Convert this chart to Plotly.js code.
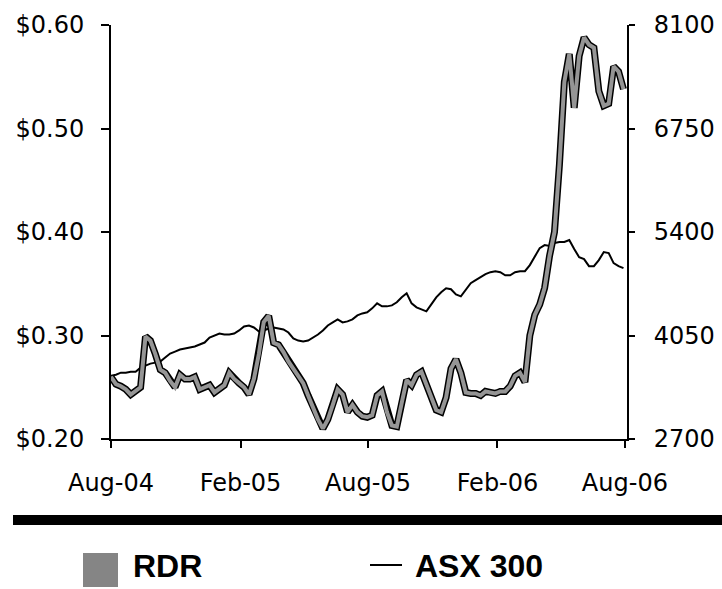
<!DOCTYPE html>
<html>
<head>
<meta charset="utf-8">
<script src="https://cdn.plot.ly/plotly-3.0.1.min.js"></script>
<style>
  html, body { margin: 0; padding: 0; background: #fff; }
  #chart { width: 722px; height: 589px; }
</style>
</head>
<body>
<div id="chart"></div>
<script>
// Weekly observation dates (Aug 2004 - Jul 2006)
const dates = [
  '2004-08-01','2004-08-08','2004-08-15','2004-08-22','2004-08-29',
  '2004-09-05','2004-09-12','2004-09-19','2004-09-26',
  '2004-10-03','2004-10-10','2004-10-17','2004-10-24','2004-10-31',
  '2004-11-07','2004-11-14','2004-11-21','2004-11-28',
  '2004-12-05','2004-12-12','2004-12-19','2004-12-26',
  '2005-01-02','2005-01-09','2005-01-16','2005-01-23','2005-01-30',
  '2005-02-06','2005-02-13','2005-02-20','2005-02-27',
  '2005-03-06','2005-03-13','2005-03-20','2005-03-27',
  '2005-04-03','2005-04-10','2005-04-17','2005-04-24',
  '2005-05-01','2005-05-08','2005-05-15','2005-05-22','2005-05-29',
  '2005-06-05','2005-06-12','2005-06-19','2005-06-26',
  '2005-07-03','2005-07-10','2005-07-17','2005-07-24','2005-07-31',
  '2005-08-07','2005-08-14','2005-08-21','2005-08-28',
  '2005-09-04','2005-09-11','2005-09-18','2005-09-25',
  '2005-10-02','2005-10-09','2005-10-16','2005-10-23','2005-10-30',
  '2005-11-06','2005-11-13','2005-11-20','2005-11-27',
  '2005-12-04','2005-12-11','2005-12-18','2005-12-25',
  '2006-01-01','2006-01-08','2006-01-15','2006-01-22','2006-01-29',
  '2006-02-05','2006-02-12','2006-02-19','2006-02-26',
  '2006-03-05','2006-03-12','2006-03-19','2006-03-26',
  '2006-04-02','2006-04-09','2006-04-16','2006-04-23','2006-04-30',
  '2006-05-07','2006-05-14','2006-05-21','2006-05-28',
  '2006-06-04','2006-06-11','2006-06-18','2006-06-25',
  '2006-07-02','2006-07-09','2006-07-16','2006-07-23','2006-07-30'
];

// RDR share price ($)
const rdr = [
  0.260,0.253,0.251,0.248,0.243,0.246,0.250,0.299,0.295,0.282,
  0.267,0.264,0.256,0.250,0.262,0.258,0.258,0.260,0.248,0.250,
  0.252,0.245,0.249,0.252,0.264,0.258,0.254,0.250,0.243,0.258,
  0.282,0.313,0.319,0.293,0.291,0.284,0.275,0.268,0.261,0.254,
  0.242,0.230,0.219,0.210,0.219,0.233,0.248,0.243,0.226,0.233,
  0.226,0.222,0.221,0.223,0.242,0.246,0.226,0.213,0.212,0.235,
  0.257,0.252,0.262,0.265,0.252,0.239,0.228,0.226,0.240,0.268,
  0.277,0.264,0.245,0.244,0.244,0.242,0.246,0.245,0.244,0.246,
  0.246,0.251,0.261,0.264,0.255,0.300,0.320,0.330,0.346,0.377,
  0.400,0.465,0.545,0.572,0.520,0.570,0.588,0.581,0.578,0.536,
  0.522,0.524,0.560,0.555,0.538
];

// ASX 300 index
const asx = [
  3526,3539,3565,3565,3578,3578,3631,3657,3683,3696,
  3709,3762,3814,3840,3867,3880,3893,3906,3932,3958,
  4024,4050,4076,4063,4063,4076,4116,4168,4181,4155,
  4102,4116,4142,4155,4142,4129,4089,4011,3984,3971,
  3984,4024,4063,4116,4181,4220,4260,4220,4234,4260,
  4312,4338,4352,4404,4469,4430,4430,4443,4483,4548,
  4601,4469,4417,4391,4365,4456,4548,4614,4666,4653,
  4587,4561,4640,4732,4771,4810,4850,4876,4889,4876,
  4836,4836,4876,4889,4889,4968,5072,5190,5230,5217,
  5256,5269,5269,5295,5177,5072,5046,4954,4954,5033,
  5138,5125,4994,4954,4928
];

// Axis ticks
const xTickVals = ['2004-08-01','2005-02-01','2005-08-01','2006-02-01','2006-08-01'];
const xTickText = ['Aug-04','Feb-05','Aug-05','Feb-06','Aug-06'];
const seriesNames = ['RDR', 'ASX 300'];

const tickFont = {family: 'DejaVu Sans, Verdana, sans-serif', size: 24, color: '#000'};
const legendFont = {family: 'Liberation Sans, Arial, sans-serif', size: 32, color: '#000', weight: 'bold'};

const traces = [
  {
    x: dates, y: asx, name: seriesNames[1], type: 'scatter', mode: 'lines',
    yaxis: 'y', line: {color: '#000', width: 2}, hoverinfo: 'skip'
  },
  {
    x: dates, y: rdr, name: seriesNames[0], type: 'scatter', mode: 'lines',
    yaxis: 'y2', line: {color: '#000', width: 7}, hoverinfo: 'skip'
  },
  {
    x: dates, y: rdr, name: seriesNames[0], type: 'scatter', mode: 'lines',
    yaxis: 'y2', line: {color: '#959595', width: 4}, hoverinfo: 'skip'
  }
];

function px(xp) { return (xp - 111) / 516; }
function py(yp) { return (439 - yp) / 414; }

const layout = {
  width: 722, height: 589,
  margin: {l: 111, r: 95, t: 25, b: 150, pad: 0},
  paper_bgcolor: '#fff', plot_bgcolor: '#fff',
  showlegend: false,
  xaxis: {
    type: 'date', range: ['2004-08-01', '2006-08-04'],
    tickmode: 'array', tickvals: xTickVals, ticktext: xTickText,
    ticks: 'outside', ticklen: 7, tickwidth: 2, tickcolor: '#000',
    showline: true, linecolor: '#000', linewidth: 2,
    showgrid: false, zeroline: false, tickfont: tickFont,
    ticklabelstandoff: 14
  },
  yaxis: {
    side: 'right', range: [2700, 8100], tick0: 2700, dtick: 1350,
    ticks: 'outside', ticklen: 6, tickwidth: 2, tickcolor: '#000',
    showline: true, linecolor: '#000', linewidth: 2,
    showgrid: false, zeroline: false, tickfont: tickFont,
    ticklabelstandoff: 14
  },
  yaxis2: {
    overlaying: 'y', side: 'left', range: [0.2, 0.6], tick0: 0.2, dtick: 0.1,
    tickprefix: '$', tickformat: '.2f',
    ticks: 'outside', ticklen: 8, tickwidth: 2, tickcolor: '#000',
    showline: true, linecolor: '#000', linewidth: 2,
    showgrid: false, zeroline: false, tickfont: tickFont,
    ticklabelstandoff: 12
  },
  yaxis3: {
    overlaying: 'y', side: 'right', range: [2700, 8100], tick0: 2700, dtick: 1350,
    ticks: 'inside', ticklen: 6, tickwidth: 2, tickcolor: '#000',
    showticklabels: false, showline: false, showgrid: false, zeroline: false
  },
  shapes: [
    {type: 'rect', xref: 'paper', yref: 'paper', x0: px(13), x1: px(722), y0: py(515), y1: py(525),
     fillcolor: '#000', line: {width: 0}},
    {type: 'rect', xref: 'paper', yref: 'paper', x0: px(83), x1: px(118), y0: py(553), y1: py(587),
     fillcolor: '#858585', line: {width: 0}},
    {type: 'line', xref: 'paper', yref: 'paper', x0: px(370), x1: px(402), y0: py(565), y1: py(565),
     line: {color: '#000', width: 2}}
  ],
  annotations: [
    {xref: 'paper', yref: 'paper', x: px(131), y: py(566), xanchor: 'left', yanchor: 'middle',
     text: seriesNames[0], showarrow: false, font: legendFont},
    {xref: 'paper', yref: 'paper', x: px(413), y: py(566), xanchor: 'left', yanchor: 'middle',
     text: seriesNames[1], showarrow: false, font: legendFont}
  ]
};

Plotly.newPlot('chart', traces, layout, {staticPlot: true, displayModeBar: false});
</script>
</body>
</html>
